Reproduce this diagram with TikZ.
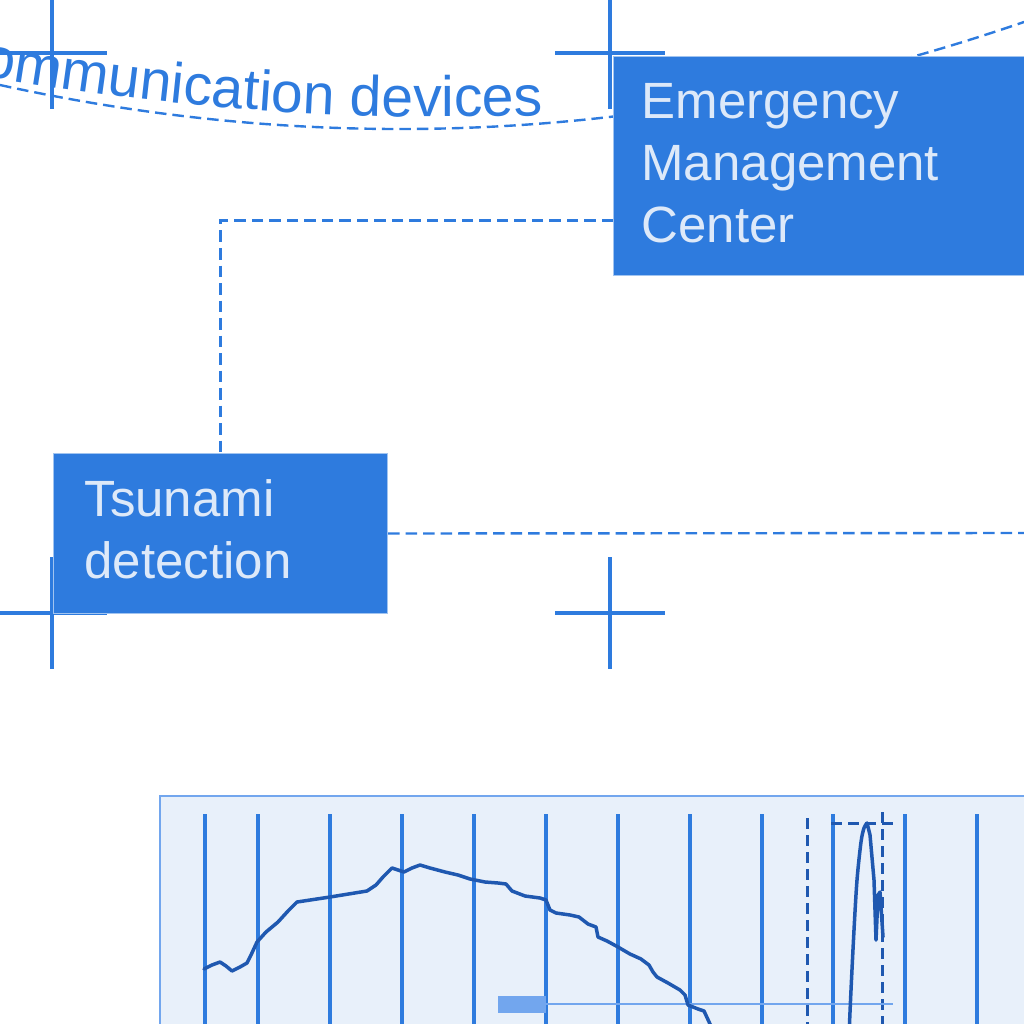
\documentclass[tikz,border=0pt]{standalone}
\usepackage{fontspec}
\setmainfont{Liberation Sans}
\usetikzlibrary{positioning,decorations.text}
\definecolor{ocean}{HTML}{2E7BDE}
\definecolor{deepSea}{HTML}{1F58B0}
\definecolor{foam}{HTML}{DDE9F9}
\definecolor{shallow}{HTML}{E8F0FA}
\definecolor{shore}{HTML}{72A6EE}

\begin{document}
\begin{tikzpicture}[x=1pt, y=-1pt,
    alertBox/.style={rectangle, fill=ocean, draw=ocean!45, line width=1pt, text=foam, font=\fontsize{51}{62}\selectfont, align=left, inner ysep=26pt, anchor=north west},
    crossStyle/.style={draw=ocean, line width=3.5pt},
    linkStyle/.style={draw=ocean, line width=2.4pt, dash pattern=on 11.5pt off 6pt},
    gridStyle/.style={draw=ocean, line width=3.5pt},
    markStyle/.style={draw=deepSea, line width=3pt, dash pattern=on 11pt off 6pt},
    traceStyle/.style={draw=deepSea, line width=3.5pt, line join=round, line cap=round}
]
    \useasboundingbox (0,0) rectangle (1024,1024);

    \foreach \cx/\cy in {52/53, 610/53, 52/613, 610/613}
        \draw[crossStyle] (\cx-55,\cy) -- (\cx+55,\cy) (\cx,\cy-56) -- (\cx,\cy+56);

    \draw[linkStyle] (0,85) .. controls (341.3,160.1) and (682.7,139.1) .. (1024,22);
    \path[decorate, decoration={text along path, text align={left indent=1pt}, text color=ocean,
        text={|\fontsize{57}{62}\selectfont|Communication devices}}]
        (-60,68) .. controls (193.3,117) and (446.7,129) .. (700,105);

    \node[alertBox, inner xsep=28pt, text width=420pt, minimum height=219pt] (emc) at (613,56)
        {Emergency\\Management\\Center\rule[-7pt]{0pt}{7pt}};
    \node[alertBox, inner xsep=31pt, text width=272pt, minimum height=160pt] (tsunami) at (53,453)
        {Tsunami\\detection\rule[-9pt]{0pt}{9pt}};

    \coordinate (eastEdge) at (1030,533);
    \draw[linkStyle] ([yshift=-54.5pt]emc.west) -| (tsunami.north);
    \draw[linkStyle] (tsunami.east) -- (eastEdge);

    \draw[draw=shore, line width=2pt, fill=shallow] (160,796) rectangle (1100,1100);
    \foreach \gx in {205,258,330,402,474,546,618,690,762,833,905,977}
        \draw[gridStyle] (\gx,814) -- (\gx,1030);
    \draw[markStyle] (807,818) -- (807,1030);
    \draw[markStyle] (882,812) -- (882,1030);
    \draw[markStyle] (831,823) -- (893,823);
    \fill[shore] (498,996) rectangle (546,1013);
    \draw[shore, line width=1.5pt] (546,1004) -- (893,1004);

    \draw[traceStyle] plot coordinates {(204,969) (212,965) (220,962) (226,966) (232,971) (240,967) (247,963) (251,955) (257,942) (266,932) (278,922) (288,911) (297,902) (330,897) (367,891) (376,885) (383,877) (392,868) (398,870) (404,872) (412,868) (420,865) (430,868) (445,872) (458,875) (470,879) (485,882) (498,883) (506,884) (512,891) (525,896) (540,898) (546,900) (550,910) (556,913) (570,915) (579,917) (588,924) (596,927) (598,937) (607,941) (618,947) (630,954) (641,959) (649,965) (653,972) (657,977) (668,983) (680,990) (685,995) (688,1005) (698,1009) (704,1011) (710,1024) (714,1035)};
    \draw[traceStyle] plot[smooth] coordinates {(849,1035) (851,990) (854,930) (857,880) (861,842) (864,828) (867,823)}
        -- (870,835) -- (874,880) -- (876,940) -- (878,895) -- (880,892) -- (883,937);
\end{tikzpicture}
\end{document}
